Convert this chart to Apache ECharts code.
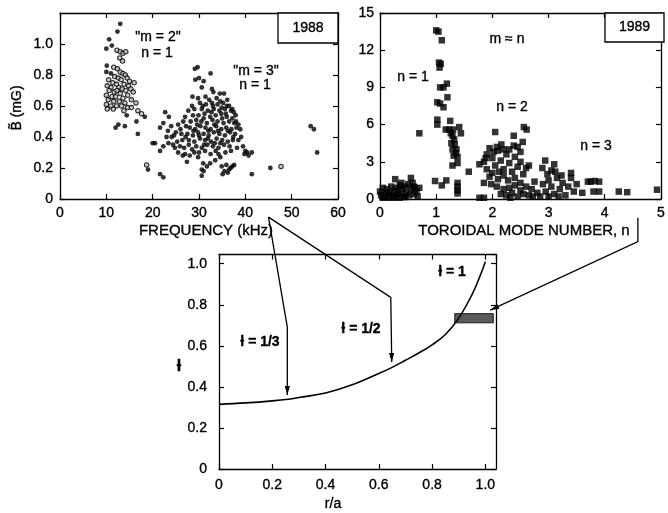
<!DOCTYPE html>
<html><head><meta charset="utf-8">
<script src="https://cdn.jsdelivr.net/npm/echarts@6/dist/echarts.min.js"></script>
<style>html,body{margin:0;padding:0;background:#fff}#c{width:668px;height:513px}</style>
</head><body><div id="c"></div>
<script>
// ---------- DATA ----------
// Panel 1988: frequency (kHz) vs B~ (mG)
const m2Open = [[12.3,0.96],[13.0,0.95],[13.6,0.94],[14.2,0.95],[12.9,0.91],[13.5,0.89],
[11.6,0.85],[12.4,0.84],[13.0,0.82],[13.6,0.81],[14.1,0.80],[11.8,0.79],[12.6,0.78],[14.5,0.78],[15.0,0.76],[13.2,0.77],[10.5,0.77],[11.4,0.75],[12.2,0.74],[13.8,0.74],[14.8,0.73],[16.0,0.75],[10.2,0.73],[11.0,0.72],[12.7,0.72],[13.4,0.71],[15.3,0.71],[10.6,0.70],[11.7,0.69],[12.3,0.70],[14.2,0.70],[15.8,0.69],[13.0,0.68],[10.0,0.67],[11.2,0.66],[12.0,0.66],[14.6,0.67],[13.6,0.65],[15.4,0.64],[10.4,0.64],[11.6,0.63],[12.8,0.63],[14.0,0.62],[16.4,0.62],[10.0,0.61],[11.0,0.60],[12.2,0.60],[13.3,0.60],[14.6,0.59],[15.4,0.59],[10.2,0.58],[11.5,0.58],[13.8,0.57],[16.8,0.57],[17.6,0.55],[18.7,0.22],[47.7,0.21]];
const m2Filled = [[13.0,1.13],[12.4,1.08],[10.6,1.03],[11.2,0.99],[10.0,0.97],[10.1,0.86],[10.0,0.82],[11.0,0.81],[14.4,0.54],[18.3,0.53],[16.5,0.50],[12.6,0.48],[12.0,0.46],[14.0,0.47],[16.8,0.42],[19.0,0.19]];
const m3Filled = [
[29.7,0.85],[29.1,0.84],[32.5,0.81],[29.2,0.77],[30.0,0.78],[31.0,0.76],[30.6,0.72],[32.8,0.71],[33.1,0.69],[34.5,0.68],[35.4,0.68],[28.6,0.66],[29.8,0.65],[31.4,0.66],[32.2,0.64],[33.8,0.65],
[22.7,0.56],[23.5,0.53],[21.6,0.46],[22.3,0.49],[24.0,0.47],[25.5,0.48],[26.6,0.50],[27.0,0.53],[27.7,0.57],[28.5,0.60],[26.0,0.45],[27.2,0.47],[25.0,0.43],[24.6,0.41],[23.3,0.44],
[20.0,0.36],[20.5,0.36],[21.6,0.31],[22.3,0.34],[23.4,0.36],[23.0,0.40],[24.1,0.40],[24.8,0.33],[25.9,0.34],[27.0,0.29],[28.0,0.28],[27.4,0.24],[29.0,0.30],[29.8,0.27],[30.9,0.23],[31.7,0.21],[30.6,0.19],[32.4,0.23],[33.5,0.25],[34.2,0.29],[34.9,0.21],[34.6,0.27],[25.3,0.37],[26.4,0.38],[24.4,0.35],[26.8,0.33],[27.8,0.35],[28.5,0.32],
[21.6,0.16],[22.3,0.14],[30.6,0.15],[31.0,0.18],[35.5,0.18],[36.5,0.19],[37.2,0.21],[37.6,0.22],[36.2,0.17],[35.1,0.16],[41.4,0.16],[45.4,0.20],[54.1,0.47],[54.8,0.45],[55.5,0.30],[36.8,0.20],[35.9,0.22],
[38.5,0.48],[38.9,0.45],[39.5,0.34],[40.0,0.31],[40.4,0.30],[41.4,0.30],[38.5,0.38],[37.9,0.54],[37.2,0.58],[36.5,0.60],[37.5,0.56],[39.1,0.40],[40.7,0.28],[39.8,0.29],[38.2,0.33],[37.8,0.42],[38.0,0.50],
[30.2,0.62],[31.5,0.61],[32.8,0.62],[34.0,0.61],[35.2,0.62],[36.0,0.60],
[29.0,0.58],[30.6,0.58],[31.9,0.57],[33.2,0.58],[34.4,0.57],[35.6,0.58],[36.9,0.57],
[28.7,0.54],[29.9,0.54],[31.2,0.55],[32.4,0.53],[33.6,0.54],[34.8,0.55],[36.0,0.53],[37.2,0.52],
[28.2,0.50],[29.4,0.51],[30.5,0.50],[31.7,0.49],[32.9,0.51],[34.0,0.50],[35.3,0.49],[36.5,0.50],[37.6,0.49],
[28.0,0.46],[29.2,0.45],[30.3,0.47],[31.4,0.46],[32.5,0.45],[33.7,0.47],[34.8,0.45],[35.9,0.46],[37.0,0.45],[38.1,0.46],
[27.5,0.42],[28.7,0.41],[29.8,0.43],[31.0,0.42],[32.1,0.41],[33.2,0.43],[34.4,0.42],[35.6,0.41],[36.7,0.43],[37.4,0.40],
[27.8,0.38],[29.0,0.37],[30.2,0.39],[31.3,0.38],[32.6,0.37],[33.8,0.39],[35.0,0.38],[36.2,0.37],[37.3,0.38],
[29.4,0.34],[30.6,0.33],[31.8,0.35],[33.0,0.34],[34.2,0.33],[35.4,0.35],[36.6,0.34],
[30.0,0.30],[31.3,0.31],[32.5,0.29],[33.6,0.31],[35.7,0.30],[36.9,0.31],
[30.8,0.60],[33.0,0.60],[34.9,0.59],[31.0,0.52],[33.3,0.48],[35.0,0.52],[32.0,0.44],[34.1,0.44],[30.0,0.41],[36.2,0.44],[31.9,0.39],[34.6,0.36],[29.6,0.48],[32.7,0.56],[35.8,0.55],[26.2,0.42],[27.1,0.40],[28.8,0.44],[36.1,0.64],[34.6,0.63],[31.1,0.35],[33.4,0.36],[25.5,0.30],[26.5,0.28]];

// Panel 1989: toroidal mode number n vs amplitude
const toroidal = [
[1.0,13.6],[1.04,13.5],[1.1,12.8],[1.05,11.0],[1.06,10.6],[1.08,10.9],[1.07,9.0],[1.13,9.0],[1.19,9.3],[1.2,8.2],[1.02,7.8],[1.07,7.7],[1.13,7.4],[1.02,6.4],[1.02,6.0],[1.25,6.3],[1.17,5.6],[1.23,5.6],[1.3,5.6],[1.41,5.8],[1.44,5.3],[0.7,5.3],[1.29,5.1],[1.27,4.5],[1.33,4.4],[1.29,4.0],[1.36,4.0],[1.31,3.5],[1.38,3.4],[1.29,2.7],[1.38,2.9],[1.35,3.7],[1.32,4.8],[1.26,5.3],
[0.98,1.45],[1.1,1.1],[1.18,1.5],[1.38,1.3],[1.38,1.0],[1.38,0.7],[1.38,0.45],
[0.0,0.6],[0.02,0.3],[0.05,0.9],[0.08,0.2],[0.1,0.5],[0.12,0.8],[0.15,0.3],[0.18,0.6],[0.2,1.0],[0.22,0.2],[0.25,0.5],[0.27,1.6],[0.28,0.9],[0.3,0.3],[0.32,0.7],[0.35,1.1],[0.37,0.4],[0.4,0.8],[0.42,0.2],[0.45,1.0],[0.47,0.5],[0.5,1.2],[0.52,0.3],[0.55,1.7],[0.55,0.8],[0.58,1.3],[0.6,0.4],[0.62,0.9],[0.65,0.6],[0.7,0.9],[0.67,0.2],[0.38,1.3],[0.05,0.1],[0.15,0.1],[0.25,0.1],[0.35,0.1],[0.45,0.15],[0.6,1.0],
[1.58,2.2],[1.77,2.8],[2.05,5.4],[2.56,5.8],[2.61,5.6],[2.38,5.1],[2.54,4.6],[2.16,4.4],[2.38,4.3],[2.3,4.0],
[1.85,3.0],[1.9,3.6],[1.95,4.1],[2.0,3.3],[2.05,2.7],[2.1,3.9],[2.15,3.1],[2.2,2.4],[2.25,3.6],[2.3,2.9],[2.35,2.2],[2.4,3.4],[2.45,2.6],[2.5,3.8],[2.55,2.0],[1.9,2.4],[1.95,1.8],[2.0,2.1],[2.1,1.6],[2.2,1.9],[2.28,1.5],[2.4,1.7],[2.08,4.2],[2.2,4.0],[2.02,3.8],[1.88,3.3],[2.12,2.2],[2.45,4.2],[2.5,3.0],[2.6,2.5],[2.65,2.7],[1.98,1.2],[2.08,1.0],
[1.85,1.3],[1.77,0.1],[1.85,0.1],
[2.2,0.8],[2.25,0.3],[2.3,0.9],[2.35,0.5],[2.4,1.1],[2.45,0.2],[2.5,0.7],[2.55,0.4],[2.6,1.0],[2.65,0.3],[2.7,0.8],[2.75,1.4],[2.8,0.5],[2.85,0.2],[2.9,1.2],[2.15,0.4],[2.5,1.3],[2.72,0.2],[2.95,0.6],[2.32,0.1],
[2.94,3.1],[3.1,2.8],[2.89,2.5],[3.05,2.3],[3.23,1.9],[3.4,2.1],[3.4,1.7],[3.7,1.4],[3.75,1.4],[3.82,1.45],[3.9,1.4],[3.8,0.6],[3.9,0.6],[3.6,0.5],[4.25,0.6],[4.4,0.55],[4.93,0.75],[3.0,1.5],[3.05,1.0],[3.1,0.4],[3.15,1.7],[3.2,0.8],[3.25,1.3],[3.3,0.3],[3.35,1.0],[2.98,2.0],[3.12,2.2],[3.45,0.6],[3.5,1.2],[3.0,0.2],[3.18,0.2]];

// Bottom panel: iota profile
const rOverA = [0,0.1,0.2,0.26,0.3,0.4,0.5,0.6,0.65,0.7,0.75,0.8,0.85,0.9,0.95,0.98,1.0];
const iota   = [0.315,0.322,0.332,0.34,0.348,0.37,0.41,0.465,0.495,0.53,0.565,0.605,0.655,0.735,0.85,0.94,1.01];
const boxRange = [[0.885,0.712],[1.03,0.757]];

const freqTicks = {min:0, max:60, interval:10};
const bTicks = {min:0, max:1.2, interval:0.2};
const nTicks = {min:0, max:5, interval:1};
const ampTicks = {min:0, max:15, interval:3};
const rTicks = {min:0, max:1.04, interval:0.2};
const iotaTicks = {min:0, max:1.045, interval:0.2};

// ---------- CHART ----------
const FONT = '"Liberation Sans", Arial, Helvetica, sans-serif';
const IOTA = '\u019A';
const chart = echarts.init(document.getElementById('c'), null, {renderer:'canvas'});

function fmt1(v){ if (Math.abs(v) < 1e-9) return '0'; const r = Math.round(v/0.2)*0.2; if (Math.abs(r - v) > 1e-6) return ''; return v.toFixed(1); }
function axis(gridIndex, t, position, showLabel, margin, formatter){
  return {
    gridIndex, type:'value', min:t.min, max:t.max, interval:t.interval, position,
    axisLine:{show:true, onZero:false, lineStyle:{color:'#000', width:1.3}},
    axisTick:{show:true, inside:true, length:5, lineStyle:{color:'#000', width:1.2}},
    axisLabel:{show:showLabel, color:'#000', fontFamily:FONT, fontSize:14, margin, formatter,
      textBorderColor:'#000', textBorderWidth:0.35,
      showMaxLabel: t.max % t.interval === 0 ? true : false},
    splitLine:{show:false}
  };
}
const intFmt = v => String(v);
const option = {
  animation:false,
  backgroundColor:'#fff',
  grid:[
    {left:60, top:13, width:278, height:186},
    {left:380, top:13, width:284, height:186},
    {left:219, top:254.5, width:277, height:214.5}
  ],
  xAxis:[
    axis(0, freqTicks, 'bottom', true, 7, intFmt),
    axis(0, freqTicks, 'top', false, 0),
    axis(1, nTicks, 'bottom', true, 7, intFmt),
    axis(1, nTicks, 'top', false, 0),
    axis(2, rTicks, 'bottom', true, 9, fmt1),
    axis(2, rTicks, 'top', false, 0)
  ],
  yAxis:[
    axis(0, bTicks, 'left', true, 7, fmt1),
    axis(0, bTicks, 'right', false, 0),
    axis(1, ampTicks, 'left', true, 6, intFmt),
    axis(1, ampTicks, 'right', false, 0),
    axis(2, iotaTicks, 'left', true, 12, fmt1),
    axis(2, iotaTicks, 'right', false, 0)
  ],
  series:[
    {type:'scatter', xAxisIndex:0, yAxisIndex:0, data:m2Open, symbol:'circle', symbolSize:4.4,
     itemStyle:{color:'#bbb', borderColor:'#000', borderWidth:1.1}, silent:true},
    {type:'scatter', xAxisIndex:0, yAxisIndex:0, data:m2Filled.concat(m3Filled), symbol:'circle', symbolSize:4.8,
     itemStyle:{color:'#000'}, silent:true},
    {type:'scatter', xAxisIndex:2, yAxisIndex:2, data:toroidal, symbol:'rect', symbolSize:6.5,
     itemStyle:{color:'#000'}, silent:true},
    {type:'line', xAxisIndex:4, yAxisIndex:4, data:rOverA.map((r,i)=>[r, iota[i]]), smooth:0.4,
     showSymbol:false, symbol:'none', lineStyle:{color:'#000', width:1.6}, silent:true,
     markArea:{silent:true, itemStyle:{color:'#5a5a5a', borderColor:'#000', borderWidth:0.8,
       decal:{symbol:'rect', symbolSize:0.6, color:'rgba(255,255,255,0.45)', dashArrayX:[2,2], dashArrayY:[1,2], rotation:0}},
       data:[[{coord:boxRange[0]},{coord:boxRange[1]}]]}}
  ]
};
chart.setOption(option);

// ---------- ANNOTATIONS ----------
const P = (si, pt) => chart.convertToPixel({seriesIndex:si}, pt);
function arrowHead(tip, from, len, half){
  const dx = tip[0]-from[0], dy = tip[1]-from[1], L = Math.hypot(dx,dy);
  const ux = dx/L, uy = dy/L, bx = tip[0]-ux*len, by = tip[1]-uy*len;
  return {type:'polygon', shape:{points:[tip,[bx-uy*half, by+ux*half],[bx+uy*half, by-ux*half]]}, style:{fill:'#000'}, z:100};
}
function poly(points){ return {type:'polyline', shape:{points}, style:{stroke:'#000', lineWidth:1.3, fill:null}, z:100}; }
function txt(x, y, text, size, extra, weight){
  return Object.assign({type:'text', x, y, style:{text, fill:'#000', stroke:'#000', lineWidth:0.35,
    font:`${weight||'normal'} ${size||14}px ${FONT}`, align:'center', verticalAlign:'middle'}, z:100}, extra||{});
}
const apex = P(0, [45.0, -0.117]);
const b1 = P(3, [0.2565, 0.691]), t1 = P(3, [0.2565, 0.36]);
const b2 = P(3, [0.645, 0.836]), t2 = P(3, [0.6485, 0.521]);
const s3 = P(2, [4.59, -1.51]), b3 = P(2, [4.59, -3.44]), t3 = P(3, [1.018, 0.774]);

const graphic = [
  poly([apex, b1, t1]), arrowHead(t1, b1, 9, 2.6),
  poly([apex, b2, t2]), arrowHead(t2, b2, 9, 2.6),
  poly([s3, b3, t3]), arrowHead(t3, b3, 9, 2.6),
  {type:'rect', shape:{x:278, y:13, width:60, height:30}, style:{fill:'#fff', stroke:'#000', lineWidth:1.3}, z:90},
  txt(308, 28.5, '1988', 14),
  {type:'rect', shape:{x:605, y:13, width:59, height:29}, style:{fill:'#fff', stroke:'#000', lineWidth:1.3}, z:90},
  txt(634.5, 27.5, '1989', 14),
  txt(158, 37, '"m = 2"', 14), txt(157, 53, 'n = 1', 14),
  txt(256, 71, '"m = 3"', 14), txt(255, 85, 'n = 1', 14),
  txt(507, 39, 'm \u2248 n', 14), txt(413, 77, 'n = 1', 14), txt(512, 107, 'n = 2', 14), txt(596, 146, 'n = 3', 14),
  txt(452, 272, IOTA + ' = 1', 14, null, 'bold'), txt(361, 329, IOTA + ' = 1/2', 14, null, 'bold'), txt(260, 342, IOTA + ' = 1/3', 14, null, 'bold'),
  txt(206, 231, 'FREQUENCY (kHz)', 15), txt(524, 231, 'TOROIDAL MODE NUMBER, n', 15),
  txt(333, 504, 'r/a', 14), txt(179, 367, IOTA, 16, null, 'bold'),
  txt(17, 108, 'B\u0303 (mG)', 14, {rotation: Math.PI/2})
];
chart.setOption({graphic});
</script></body></html>
